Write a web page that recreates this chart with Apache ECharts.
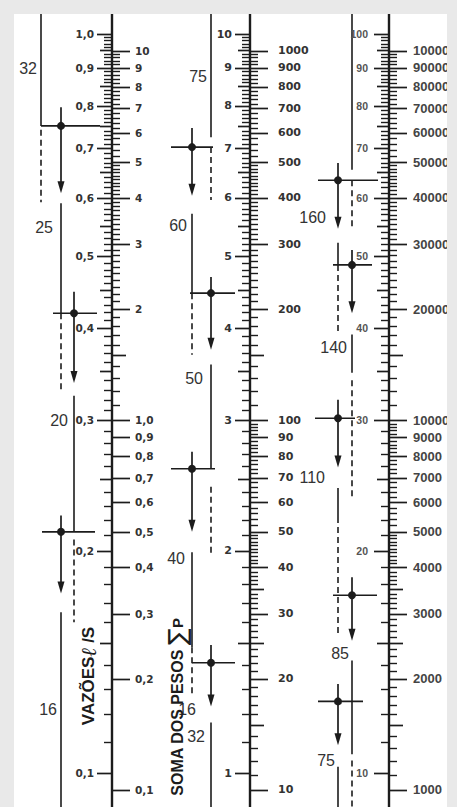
<!DOCTYPE html>
<html><head><meta charset="utf-8">
<script src="https://cdn.jsdelivr.net/npm/echarts@6/dist/echarts.min.js"></script>
<style>html,body{margin:0;padding:0;background:#fff}#c{width:457px;height:807px}</style>
</head><body><div id="c"></div><script>
// ================= DATA =================
// each column: flow scale (left, l/s) and weight-sum scale (right, ΣP); Q = 0.3·√ΣP
const flowScale = [1, 10, 100];          // column multipliers of the flow scale
const weightScale = [1, 100, 10000];     // column multipliers of the weight scale
const flowTicks = [1.0, 0.9, 0.8, 0.7, 0.6, 0.5, 0.4, 0.3, 0.2, 0.1];
const flowTickLabels = [
  ['1,0','0,9','0,8','0,7','0,6','0,5','0,4','0,3','0,2','0,1'],
  ['10','9','8','7','6','5','4','3','2','1'],
  ['100','90','80','70','60','50','40','30','20','10']
];
const weightTicks = [10, 9, 8, 7, 6, 5, 4, 3, 2, 1, 0.9, 0.8, 0.7, 0.6, 0.5, 0.4, 0.3, 0.2, 0.1];
const weightTickLabels = [
  ['10','9','8','7','6','5','4','3','2','1,0','0,9','0,8','0,7','0,6','0,5','0,4','0,3','0,2','0,1'],
  ['1000','900','800','700','600','500','400','300','200','100','90','80','70','60','50','40','30','20','10'],
  ['100000','90000','80000','70000','60000','50000','40000','30000','20000','10000','9000','8000','7000','6000','5000','4000','3000','2000','1000']
];
const weightLowerSubdivided = [false, true, true]; // lower decade has fine graduations

// pipe diameter (mm) reading guides, values in the flow units of each column (l/s)
// [lane, from, to]
const solid1  = [[0, 1.07, 0.751], [1, 0.590, 0.419], [2, 0.324, 0.212], [1, 0.165, 0.08]];
const dashed1 = [[0, 0.742, 0.592], [1, 0.419, 0.327], [2, 0.207, 0.160]];
const arrows1 = [[1, 0.796, 0.609], [2, 0.448, 0.337], [1, 0.223, 0.175]];
const cross1  = [[1, 0.751], [2, 0.419], [1, 0.212]];
const names1  = [['32', 0, 0.897], ['25', 1, 0.548], ['20', 2, 0.300], ['16', 1, 0.122]];

const solid2  = [[1, 10.7, 7.25], [0, 5.71, 4.46], [1, 3.57, 2.58], [0, 1.99, 1.48], [1, 1.17, 0.8]];
const dashed2 = [[1, 7.03, 5.96], [0, 4.46, 3.68], [1, 2.44, 1.97], [0, 1.48, 1.27]];
const arrows2 = [[0, 7.46, 6.04], [1, 4.69, 3.74], [0, 2.72, 2.12], [1, 1.49, 1.23]];
const cross2  = [[0, 7.03], [1, 4.46], [0, 2.58], [1, 1.41]];
const names2  = [['75', 1, 8.77], ['60', 0, 5.50], ['50', 1, 3.42], ['40', 0, 1.95], ['32', 1, 1.12], ['16', 1, 1.22]];

const solid3  = [[1, 107, 65.5], [0, 52.2, 48.7], [1, 39.2, 34.8], [0, 24.3, 22.2], [1, 14.2, 10.6], [0, 10.2, 8]];
const dashed3 = [[1, 63.4, 54.5], [0, 48.7, 39.5], [1, 34.0, 23.6], [0, 22.2, 15.3], [1, 10.4, 8]];
const arrows3 = [[0, 66.9, 54.5], [1, 51.0, 41.9], [0, 32.0, 25.9], [1, 18.4, 15.1], [0, 13.2, 10.9]];
const cross3  = [[0, 63.4], [1, 48.7], [0, 30.2], [1, 17.4], [0, 12.5]];
const names3  = [['160', 0, 56.4], ['140', 1, 37.6], ['110', 0, 25.1], ['85', 1, 14.5], ['75', 0, 10.4]];

const flowTitle = 'VAZÕES';
const weightTitle = 'SOMA DOS PESOS';

// ================= LAYOUT / STYLE =================
const ink = '#1c1c1c';
const labelInk = '#333';
const L = {
  axisX: [112, 250, 389],
  lanes: [[41, 61, 74], [192, 211], [338, 352]],
  leftLabelDx: [-18, -18, -21],
  rightLabelDx: [23, 28, 24],
  leftFont: ['bold 10.5px "DejaVu Sans"', 'bold 11px "DejaVu Sans"', 'bold 10.5px "Liberation Sans"'],
  leftInk: ['#333', '#333', '#555'],
  rightFont: ['bold 10.5px "DejaVu Sans"', 'bold 11px "DejaVu Sans"', 'bold 13px "Liberation Sans"'],
  rightInk: ['#333', '#333', '#444'],
  tickLen: { left: [15, 12, 8], right: [18, 14, 8] },
  crossExt: [
    [[20, 39], [21, 23], [19, 34]],
    [[21, 21], [21, 24], [21, 23], [19, 24]],
    [[20, 40], [19, 20], [23, 17], [19, 25], [20, 25]]
  ],
  nameDx: [[-4, -8, -6, -4], [-4, -5, -8, -7, -6, -15], [-12, -5, -13, -3, -3]],
  nameFont: '16px "Liberation Sans"'
};
const solids = [solid1, solid2, solid3], dasheds = [dashed1, dashed2, dashed3];
const arrows = [arrows1, arrows2, arrows3], crosses = [cross1, cross2, cross3];
const names = [names1, names2, names3];

// scale value -> common nomogram coordinate (log10 of flow in column-1 units)
const uFlow = (q, c) => Math.log10(q / flowScale[c]);
const uWeight = (p, c) => Math.log10(0.3 * Math.sqrt(p / weightScale[c]));

// ---------- build tick items ----------
const ticks = []; // {x,u,side,kind}
for (let c = 0; c < 3; c++) {
  const X = L.axisX[c];
  // flow (left) scale
  for (let k = 10; k <= 100; k++) {
    const base = k / 100;
    const kind = (k % 10 === 0) ? 0 : (k % 5 === 0 ? 1 : 2);
    ticks.push({ x: X, u: uFlow(base * flowScale[c], c), side: -1, kind });
  }
  // weight (right) scale, upper decade 1..10
  for (let k = 10; k <= 100; k++) {
    const base = k / 10;
    if (base > 5 && k % 2 === 1) continue;
    const kind = (k % 10 === 0) ? 0 : (k === 15 ? 1 : 2);
    ticks.push({ x: X, u: uWeight(base * weightScale[c], c), side: 1, kind });
  }
  // lower decade 0.1..1
  for (let k = 10; k < 100; k++) {
    const base = k / 100;
    const major = k % 10 === 0;
    if (!major) {
      if (!weightLowerSubdivided[c]) continue;
      if (k > 50 && k % 2 === 1) continue;
    }
    const kind = major ? 0 : ((k === 15 || k === 25 || k === 35) ? 1 : 2);
    ticks.push({ x: X, u: uWeight(base * weightScale[c], c), side: 1, kind });
  }
}

// ---------- tick labels ----------
const labels = [];
for (let c = 0; c < 3; c++) {
  const X = L.axisX[c];
  flowTicks.forEach((t, i) => labels.push({ x: X + L.leftLabelDx[c], u: uFlow(t * flowScale[c], c),
    text: flowTickLabels[c][i], align: 'right', font: L.leftFont[c], fill: L.leftInk[c] }));
  weightTicks.forEach((t, i) => labels.push({ x: X + L.rightLabelDx[c], u: uWeight(t * weightScale[c], c),
    text: weightTickLabels[c][i], align: 'left', font: L.rightFont[c], fill: L.rightInk[c] }));
}

// ---------- guides ----------
const segs = [], dashSegs = [], arrowItems = [], crossItems = [], nameItems = [];
for (let c = 0; c < 3; c++) {
  const lx = L.lanes[c];
  solids[c].forEach(s => segs.push({ x: lx[s[0]], u1: uFlow(s[1], c), u2: uFlow(s[2], c) }));
  dasheds[c].forEach(s => dashSegs.push({ x: lx[s[0]], u1: uFlow(s[1], c), u2: uFlow(s[2], c) }));
  arrows[c].forEach(s => arrowItems.push({ x: lx[s[0]], u1: uFlow(s[1], c), u2: uFlow(s[2], c) }));
  crosses[c].forEach((s, i) => crossItems.push({ x: lx[s[0]], u: uFlow(s[1], c), ext: L.crossExt[c][i] }));
  names[c].forEach((s, i) => nameItems.push({ x: lx[s[1]] + L.nameDx[c][i], u: uFlow(s[2], c), text: s[0] }));
}

const uMax = 20 / 739, uMin = uMax - 793 / 739;

function custom(items, toData, render, z) {
  return { type: 'custom', coordinateSystem: 'cartesian2d', silent: true, z: z || 2,
    encode: { x: 0, y: 1 }, data: items.map(toData),
    renderItem: (params, api) => render(items[params.dataIndex], api) };
}

const series = [
  // scale stems
  custom(L.axisX.map(x => ({ x })), d => [d.x, uMax], (d, api) => {
    const a = api.coord([d.x, uMax]), b = api.coord([d.x, uMin]);
    return { type: 'line', shape: { x1: a[0], y1: a[1] - 1, x2: b[0], y2: b[1] + 2 }, style: { stroke: ink, lineWidth: 2.4 } };
  }, 3),
  // graduations
  custom(ticks, d => [d.x, d.u], (d, api) => {
    const p = api.coord([d.x, d.u]);
    const len = (d.side < 0 ? L.tickLen.left : L.tickLen.right)[d.kind];
    const y = Math.round(p[1]) + 0.5;
    return { type: 'line', shape: { x1: p[0], y1: y, x2: p[0] + d.side * len, y2: y },
      style: { stroke: ink, lineWidth: d.kind === 2 ? 1.4 : 1.7 } };
  }, 3),
  // tick labels
  custom(labels, d => [d.x, d.u], (d, api) => {
    const p = api.coord([d.x, d.u]);
    return { type: 'text', x: p[0], y: p[1], style: { text: d.text, fill: d.fill, font: d.font,
      align: d.align, verticalAlign: 'middle', textAlign: d.align, textVerticalAlign: 'middle' } };
  }, 4),
  // solid guide lines
  custom(segs, d => [d.x, d.u1], (d, api) => {
    const a = api.coord([d.x, d.u1]), b = api.coord([d.x, d.u2]);
    return { type: 'line', shape: { x1: a[0], y1: a[1], x2: b[0], y2: b[1] }, style: { stroke: ink, lineWidth: 1.6 } };
  }),
  // dashed continuation
  custom(dashSegs, d => [d.x, d.u1], (d, api) => {
    const a = api.coord([d.x, d.u1]), b = api.coord([d.x, d.u2]);
    return { type: 'line', shape: { x1: a[0], y1: a[1], x2: b[0], y2: b[1] }, style: { stroke: ink, lineWidth: 1.6, lineDash: [6, 4] } };
  }),
  // arrows
  custom(arrowItems, d => [d.x, d.u1], (d, api) => {
    const a = api.coord([d.x, d.u1]), b = api.coord([d.x, d.u2]);
    return { type: 'group', children: [
      { type: 'line', shape: { x1: a[0], y1: a[1], x2: b[0], y2: b[1] - 10 }, style: { stroke: ink, lineWidth: 1.7 } },
      { type: 'polygon', shape: { points: [[b[0] - 3.5, b[1] - 12], [b[0] + 3.5, b[1] - 12], [b[0], b[1]]] }, style: { fill: ink } }
    ] };
  }),
  // crosshairs
  custom(crossItems, d => [d.x, d.u], (d, api) => {
    const p = api.coord([d.x, d.u]);
    return { type: 'group', children: [
      { type: 'line', shape: { x1: p[0] - d.ext[0], y1: p[1], x2: p[0] + d.ext[1], y2: p[1] }, style: { stroke: ink, lineWidth: 1.6 } },
      { type: 'circle', shape: { cx: p[0], cy: p[1], r: 4 }, style: { fill: ink } }
    ] };
  }, 5),
  // diameter names
  custom(nameItems, d => [d.x, d.u], (d, api) => {
    const p = api.coord([d.x, d.u]);
    return { type: 'text', x: p[0], y: p[1], style: { text: d.text, fill: labelInk, font: L.nameFont,
      align: 'right', verticalAlign: 'middle', textAlign: 'right', textVerticalAlign: 'middle' } };
  }, 5)
];

const chart = echarts.init(document.getElementById('c'), null, { renderer: 'svg' });
chart.setOption({
  animation: false,
  backgroundColor: '#ffffff',
  grid: { left: 0, right: 0, top: 14, bottom: 0 },
  xAxis: { type: 'value', min: 0, max: 457, show: false },
  yAxis: { type: 'value', min: uMin, max: uMax, show: false },
  series,
  graphic: [
    { type: 'text', x: 88, y: 676, rotation: Math.PI / 2, z: 20,
      style: { text: '{a|' + flowTitle + '}{b|ℓ}{a| /S}', align: 'center', verticalAlign: 'middle',
        rich: { a: { font: 'bold 17px "Liberation Sans"', fill: ink }, b: { font: 'bold italic 21px "DejaVu Serif"', fill: ink } } } },
    { type: 'text', x: 177, y: 707, rotation: Math.PI / 2, z: 20,
      style: { text: '{a|' + weightTitle + ' }{b|∑}{c|P}', align: 'center', verticalAlign: 'middle',
        rich: { a: { font: 'bold 16px "Liberation Sans"', fill: ink }, b: { font: '25px "DejaVu Sans"', fill: ink }, c: { font: 'bold 15px "Liberation Sans"', fill: ink } } } },
    { type: 'rect', z: 100, shape: { x: 0, y: 0, width: 457, height: 14 }, style: { fill: '#e9e9e9' } },
    { type: 'rect', z: 100, shape: { x: 0, y: 0, width: 14, height: 807 }, style: { fill: '#e9e9e9' } },
    { type: 'rect', z: 100, shape: { x: 447, y: 0, width: 10, height: 807 }, style: { fill: '#e9e9e9' } }
  ]
});
</script></body></html>
